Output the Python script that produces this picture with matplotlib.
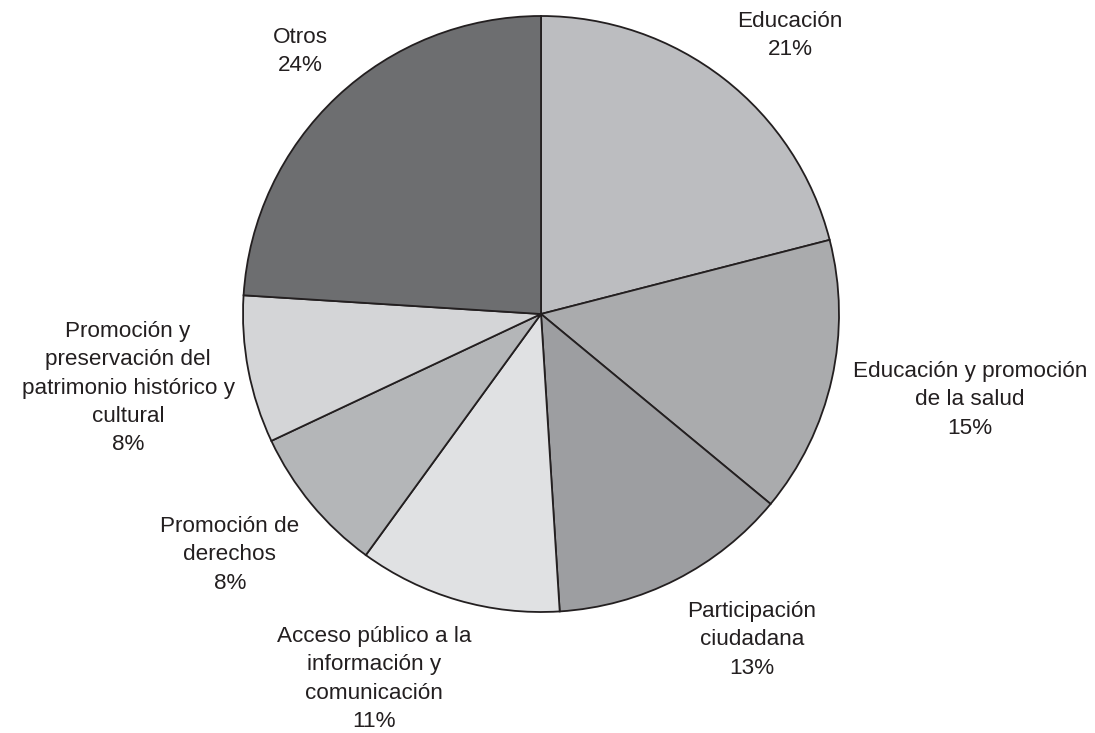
import matplotlib.pyplot as plt

labels = ['Educación', 'Educación y promoción\nde la salud', 'Participación\nciudadana',
          'Acceso público a la\ninformación y\ncomunicación', 'Promoción de\nderechos',
          'Promoción y\npreservación del\npatrimonio histórico y\ncultural', 'Otros']
values = [21, 15, 13, 11, 8, 8, 24]
colors = ['#bcbdc0', '#aaabad', '#9d9ea1', '#e0e1e3', '#b4b6b8', '#d4d5d7', '#6d6e70']

# label centres in pixel coords (x, top y of block)
label_pos = [(790, 11), (970, 361), (752, 601), (374, 626), (230, 516), (128, 321), (300, 27)]

fig = plt.figure(figsize=(10.95, 7.33), dpi=100)
ax = fig.add_axes([0, 0, 1, 1])

ax.pie(values, colors=colors, startangle=90, counterclock=False,
       center=(541, 733 - 314), radius=298, frame=True,
       wedgeprops=dict(edgecolor='#231f20', linewidth=1.3))
ax.set_xlim(0, 1095)
ax.set_ylim(0, 733)
ax.set_aspect('equal')
ax.axis('off')

for lab, v, (x, y) in zip(labels, values, label_pos):
    ax.text(x, 733 - y, f'{lab}\n{v}%', ha='center', va='top', fontsize=16.2,
            family='Liberation Sans', color='#231f20', linespacing=1.46)

fig.savefig('out.png', dpi=100)
